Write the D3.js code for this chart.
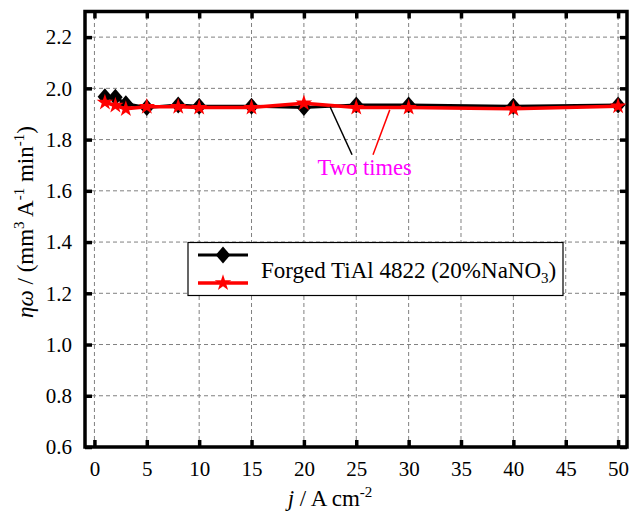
<!DOCTYPE html>
<html>
<head>
<meta charset="utf-8">
<script src="https://cdn.jsdelivr.net/npm/d3@7"></script>
<style>
  html, body { margin: 0; padding: 0; background: #fff; }
  svg { display: block; }
  svg text { font-family: "Liberation Serif", "Times New Roman", Times, "DejaVu Serif", serif; }
</style>
</head>
<body>
<svg id="chart" width="629" height="518"></svg>
<script>
// current density (A cm-2)
const currentDensity = [1, 2, 3, 5, 8, 10, 15, 20, 25, 30, 40, 50];
// first run (black diamonds)
const etaOmegaRun1 = [1.967, 1.965, 1.94, 1.925, 1.935, 1.93, 1.93, 1.925, 1.935, 1.935, 1.93, 1.935];
// second run (red stars)
const etaOmegaRun2 = [1.945, 1.933, 1.92, 1.928, 1.928, 1.925, 1.925, 1.942, 1.925, 1.925, 1.92, 1.93];

const xTicks = [0, 5, 10, 15, 20, 25, 30, 35, 40, 45, 50];
const yTicks = [0.6, 0.8, 1.0, 1.2, 1.4, 1.6, 1.8, 2.0, 2.2];

// "Two times" callout, in data units
const calloutLines = [
    { color: "#000", from: [22.5, 1.928], to: [24.6, 1.741] },
    { color: "#f00", from: [28.2, 1.916], to: [26.6, 1.741] }
];
const calloutText = { x: 25.8, y: 1.66, label: "Two times" };

const svg = d3.select("#chart");
const margin = { top: 11.5, right: 2, bottom: 71, left: 85 };
const width = 629, height = 518;

const x = d3.scaleLinear().domain([-0.9, 50.85]).range([margin.left, width - margin.right]);
const y = d3.scaleLinear().domain([0.6, 2.3]).range([height - margin.bottom, margin.top]);

// --- grid ---
const grid = svg.append("g");
grid.selectAll(".gx").data(xTicks).enter().append("line")
    .attr("x1", d => x(d)).attr("x2", d => x(d))
    .attr("y1", y.range()[0]).attr("y2", y.range()[1])
    .attr("stroke", "#808080").attr("stroke-width", 1).attr("stroke-dasharray", "4,3");
grid.selectAll(".gy").data(yTicks).enter().append("line")
    .attr("y1", d => y(d)).attr("y2", d => y(d))
    .attr("x1", x.range()[0]).attr("x2", x.range()[1])
    .attr("stroke", "#808080").attr("stroke-width", 1).attr("stroke-dasharray", "4,3");

// --- axes (ticks inward, mirrored) ---
const tickLen = 7;
const axisStyle = g => {
    g.attr("font-family", null);
    g.select(".domain").remove();
    g.selectAll(".tick line").attr("stroke", "#000").attr("stroke-width", 3.5);
    g.selectAll(".tick text").attr("font-size", 21).attr("fill", "#000");
};

svg.append("g")
    .attr("transform", `translate(0,${y.range()[0]})`)
    .call(d3.axisBottom(x).tickValues(xTicks).tickSizeInner(-tickLen).tickSizeOuter(0).tickPadding(14).tickFormat(d3.format("d")))
    .call(axisStyle);
svg.append("g")
    .attr("transform", `translate(0,${y.range()[1]})`)
    .call(d3.axisTop(x).tickValues(xTicks).tickSizeInner(-tickLen).tickSizeOuter(0).tickFormat(""))
    .call(axisStyle);
svg.append("g")
    .attr("transform", `translate(${x.range()[0]},0)`)
    .call(d3.axisLeft(y).tickValues(yTicks).tickSizeInner(-tickLen).tickSizeOuter(0).tickPadding(13).tickFormat(d3.format(".1f")))
    .call(axisStyle);
svg.append("g")
    .attr("transform", `translate(${x.range()[1]},0)`)
    .call(d3.axisRight(y).tickValues(yTicks).tickSizeInner(-tickLen).tickSizeOuter(0).tickFormat(""))
    .call(axisStyle);

// frame
svg.append("rect")
    .attr("x", x.range()[0]).attr("y", y.range()[1])
    .attr("width", x.range()[1] - x.range()[0])
    .attr("height", y.range()[0] - y.range()[1])
    .attr("fill", "none").attr("stroke", "#000").attr("stroke-width", 3.5);

// --- series ---
const diamond = {
    draw(ctx, size) {
        const w = 7.3, h = 8.5;
        ctx.moveTo(0, -h); ctx.lineTo(w, 0); ctx.lineTo(0, h); ctx.lineTo(-w, 0); ctx.closePath();
    }
};

const line = d3.line().x(d => x(d[0])).y(d => y(d[1]));
const series = [
    { values: etaOmegaRun1, color: "#000", width: 3, symbol: diamond, size: 1 },
    { values: etaOmegaRun2, color: "#f00", width: 3.5, symbol: d3.symbolStar, size: 85 }
];

series.forEach(s => {
    const pts = currentDensity.map((c, i) => [c, s.values[i]]);
    svg.append("path").datum(pts)
        .attr("d", line).attr("fill", "none")
        .attr("stroke", s.color).attr("stroke-width", s.width).attr("stroke-linejoin", "round");
    svg.append("g").selectAll("path").data(pts).enter().append("path")
        .attr("transform", d => `translate(${x(d[0])},${y(d[1])})`)
        .attr("d", d3.symbol().type(s.symbol).size(s.size))
        .attr("fill", s.color);
});

// --- callout ---
calloutLines.forEach(c => {
    svg.append("line")
        .attr("x1", x(c.from[0])).attr("y1", y(c.from[1]))
        .attr("x2", x(c.to[0])).attr("y2", y(c.to[1]))
        .attr("stroke", c.color).attr("stroke-width", 1.5);
});
svg.append("text")
    .attr("x", x(calloutText.x)).attr("y", y(calloutText.y))
    .attr("text-anchor", "middle")
    .attr("font-size", 22.5).attr("fill", "#f0f")
    .text(calloutText.label);

// --- legend ---
const legend = svg.append("g").attr("transform", "translate(188,242.5)");
legend.append("rect")
    .attr("width", 375).attr("height", 53)
    .attr("fill", "#fff").attr("stroke", "#000").attr("stroke-width", 1.2);
const legendRows = [
    { color: "#000", width: 3, symbol: diamond, size: 1, dy: 12.5 },
    { color: "#f00", width: 3.5, symbol: d3.symbolStar, size: 85, dy: 40.5 }
];
legendRows.forEach(r => {
    legend.append("line")
        .attr("x1", 10).attr("x2", 60).attr("y1", r.dy).attr("y2", r.dy)
        .attr("stroke", r.color).attr("stroke-width", r.width);
    legend.append("path")
        .attr("transform", `translate(35,${r.dy})`)
        .attr("d", d3.symbol().type(r.symbol).size(r.size))
        .attr("fill", r.color);
});
const lt = legend.append("text")
    .attr("x", 73).attr("y", 35)
    .attr("font-size", 23).attr("fill", "#000");
lt.append("tspan").text("Forged TiAl 4822 (20%NaNO");
lt.append("tspan").attr("font-size", 15).attr("dy", 5).text("3");
lt.append("tspan").attr("dy", -5).text(")");

// --- axis titles ---
const xt = svg.append("text")
    .attr("x", 330).attr("y", 506)
    .attr("text-anchor", "middle")
    .attr("font-size", 23).attr("fill", "#000");
xt.append("tspan").attr("font-style", "italic").text("j");
xt.append("tspan").text(" / A cm");
xt.append("tspan").attr("font-size", 15).attr("dy", -9).text("-2");

const yt = svg.append("text")
    .attr("transform", "translate(33,222) rotate(-90)")
    .attr("text-anchor", "middle")
    .attr("font-size", 23).attr("fill", "#000");
yt.append("tspan").attr("font-style", "italic").text("ηω");
yt.append("tspan").text(" / (mm");
yt.append("tspan").attr("font-size", 15).attr("dy", -9).text("3");
yt.append("tspan").attr("dy", 9).text(" A");
yt.append("tspan").attr("font-size", 15).attr("dy", -9).text("-1");
yt.append("tspan").attr("dy", 9).text(" min");
yt.append("tspan").attr("font-size", 15).attr("dy", -9).text("-1");
yt.append("tspan").attr("dy", 9).text(")");
</script>
</body>
</html>
